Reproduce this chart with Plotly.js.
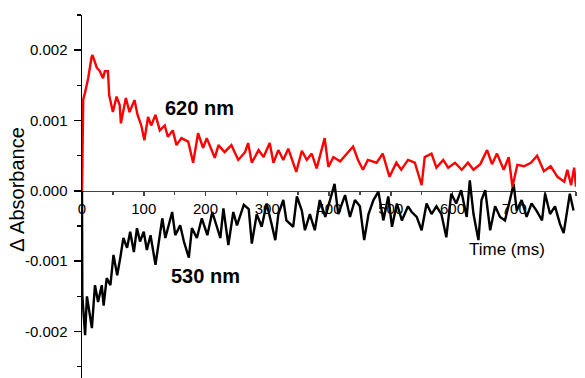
<!DOCTYPE html>
<html>
<head>
<meta charset="utf-8">
<script src="https://cdn.plot.ly/plotly-3.0.1.min.js"></script>
<style>html,body{margin:0;padding:0;background:#fff;}#chart{width:585px;height:378px;}</style>
</head>
<body>
<div id="chart"></div>
<script>
// 620 nm trace
var time620 = [0,2,5,10,15.5,17,24,29,34,37,42,44,50,56,61,63,71,77,85,90,96,101,107,112,119,126,134,139,147,153,161,172,180,188,196,202,215,221,231,242,253,264,269,275,286,294,304,310,318,326,334,347,356,364,372,380,393,399,407,418,426,439,447,455,463,477,487,498,509,517,528,539,550,555,566,574,585,593,604,615,625,634,645,656,664,672,683,691,697,705,716,727,737,748,759,770,781,786,792,797,800];
var abs620 = [0,0.00130,0.00140,0.00160,0.00190,0.00193,0.00175,0.00170,0.00160,0.00170,0.00170,0.00136,0.00112,0.00134,0.00122,0.00096,0.00132,0.00112,0.00129,0.00108,0.00093,0.00072,0.00105,0.00093,0.00108,0.00086,0.00093,0.00077,0.00086,0.00065,0.00075,0.00070,0.00040,0.00082,0.00061,0.00075,0.00047,0.00065,0.00055,0.00065,0.00044,0.00055,0.00068,0.00040,0.00058,0.00048,0.00068,0.00040,0.00058,0.00044,0.00060,0.00027,0.00057,0.00044,0.00053,0.00032,0.00075,0.00034,0.00048,0.00042,0.00050,0.00063,0.00044,0.00030,0.00044,0.00040,0.00053,0.00020,0.00040,0.00030,0.00044,0.00040,0.00008,0.00048,0.00053,0.00033,0.00044,0.00033,0.00040,0.00030,0.00040,0.00030,0.00038,0.00058,0.00038,0.00053,0.00030,0.00048,0.00006,0.00037,0.00035,0.00040,0.00050,0.00028,0.00035,0.00020,0.00013,0.00030,0.00008,0.00033,0.00006];

// 530 nm trace
var time530 = [0,0.5,3,5,8,12,16,21,26,32,35,40,46,51,57,62,67,73,78,84,89,94,100,105,111,119,124,130,135,146,151,159,165,173,178,186,194,203,211,219,224,229,237,245,251,262,270,275,283,291,299,307,313,318,326,331,342,348,356,361,369,377,385,394,402,409,415,426,434,442,450,457,464,472,480,488,496,502,510,518,528,534,542,550,558,566,574,582,590,598,606,614,623,628,634,642,647,653,661,669,677,685,693,699,704,712,720,728,736,745,750,758,766,774,780,785,790,796];
var abs530 = [0,-0.00148,-0.00180,-0.00205,-0.00150,-0.00170,-0.00195,-0.00134,-0.00158,-0.00134,-0.00163,-0.00124,-0.00134,-0.00091,-0.00120,-0.00095,-0.00067,-0.00081,-0.00058,-0.00087,-0.00053,-0.00072,-0.00058,-0.00084,-0.00063,-0.00105,-0.00077,-0.00039,-0.00067,-0.00030,-0.00063,-0.00049,-0.00072,-0.00095,-0.00053,-0.00067,-0.00039,-0.00063,-0.00030,-0.00053,-0.00067,-0.00025,-0.00077,-0.00030,-0.00049,-0.00020,-0.00026,-0.00075,-0.00033,-0.00051,-0.00018,-0.00047,-0.00070,-0.00033,-0.00013,-0.00042,-0.00051,-0.00008,-0.00028,-0.00056,-0.00033,-0.00056,-0.00013,-0.00037,-0.00013,0.00010,-0.00033,-0.00006,-0.00037,-0.00013,-0.00022,-0.00070,-0.00033,-0.00013,-0.00001,-0.00042,-0.00008,-0.00051,-0.00018,-0.00042,-0.00022,-0.00030,-0.00037,-0.00056,-0.00018,-0.00033,-0.00022,-0.00033,-0.00066,-0.00004,-0.00018,0.00001,-0.00037,0.00015,-0.00033,-0.00070,-0.00013,0.00001,-0.00056,-0.00022,-0.00037,-0.00042,-0.00013,0.00010,-0.00028,-0.00013,-0.00037,-0.00018,-0.00028,-0.00042,-0.00004,-0.00033,-0.00022,-0.00047,-0.00060,-0.00033,-0.00004,-0.00028];

var xTickVals = [0,100,200,300,400,500,600,700,800];
var xTickText = ['0','100','200','300','400','500','600','700','800'];
var yTickVals = [-0.002,-0.001,0,0.001,0.002];
var yTickText = ['-0.002','-0.001','0.000','0.001','0.002'];

var label620 = '620 nm';
var label530 = '530 nm';
var xTitle = 'Time (ms)';
var yTitle = '\u0394 Absorbance';

var yRange = [-0.00266, 0.0025];
var xRange = [0, 800];

var FONT = 'Liberation Sans, Arial, sans-serif';

var traces = [
  {x: time530, y: abs530, mode: 'lines', line: {color: '#000000', width: 2.4}, hoverinfo: 'skip'},
  {x: time620, y: abs620, mode: 'lines', line: {color: '#ff0000', width: 2.4}, hoverinfo: 'skip'}
];

var layout = {
  width: 585, height: 378,
  margin: {l: 82, r: 9, t: 15, b: 0, pad: 0},
  paper_bgcolor: '#ffffff', plot_bgcolor: '#ffffff',
  showlegend: false,
  font: {family: FONT, size: 15, color: '#000'},
  xaxis: {
    range: xRange, anchor: 'free',
    position: (0 - yRange[0]) / (yRange[1] - yRange[0]),
    tickvals: xTickVals, ticktext: xTickText,
    ticks: 'outside', ticklen: 4, tickwidth: 1.5, tickcolor: '#444',
    minor: {dtick: 50, ticks: 'outside', ticklen: 3, tickwidth: 1.5, tickcolor: '#444'},
    showline: true, linecolor: '#444', linewidth: 1.5,
    showgrid: false, zeroline: false,
    tickfont: {family: FONT, size: 15, color: '#000'},
    layer: 'below traces', fixedrange: true
  },
  yaxis: {
    range: yRange,
    tickvals: yTickVals, ticktext: yTickText,
    ticks: 'outside', ticklen: 7, tickwidth: 1.5, tickcolor: '#000',
    minor: {tickvals: [-0.0025,-0.0015,-0.0005,0.0005,0.0015,0.0025], ticks: 'outside', ticklen: 4, tickwidth: 1.5, tickcolor: '#000'},
    showline: true, linecolor: '#000', linewidth: 1.5,
    showgrid: false, zeroline: false,
    tickfont: {family: FONT, size: 15, color: '#000'},
    ticklabelstandoff: 3, fixedrange: true
  },
  annotations: [
    {text: label620, x: 191, y: 0.00118, xref: 'x', yref: 'y', xanchor: 'center', yanchor: 'middle', showarrow: false, font: {family: FONT, size: 20, color: '#000', weight: 'bold'}},
    {text: label530, x: 200, y: -0.00121, xref: 'x', yref: 'y', xanchor: 'center', yanchor: 'middle', showarrow: false, font: {family: FONT, size: 20, color: '#000', weight: 'bold'}},
    {text: xTitle, x: 689, y: -0.00083, xref: 'x', yref: 'y', xanchor: 'center', yanchor: 'middle', showarrow: false, font: {family: FONT, size: 17, color: '#000'}},
    {text: yTitle, x: -0.1316, y: 0.00003, xref: 'paper', yref: 'y', xanchor: 'center', yanchor: 'middle', textangle: -90, showarrow: false, font: {family: FONT, size: 20, color: '#000'}}
  ]
};

Plotly.newPlot('chart', traces, layout, {staticPlot: true, displayModeBar: false});
</script>
</body>
</html>
